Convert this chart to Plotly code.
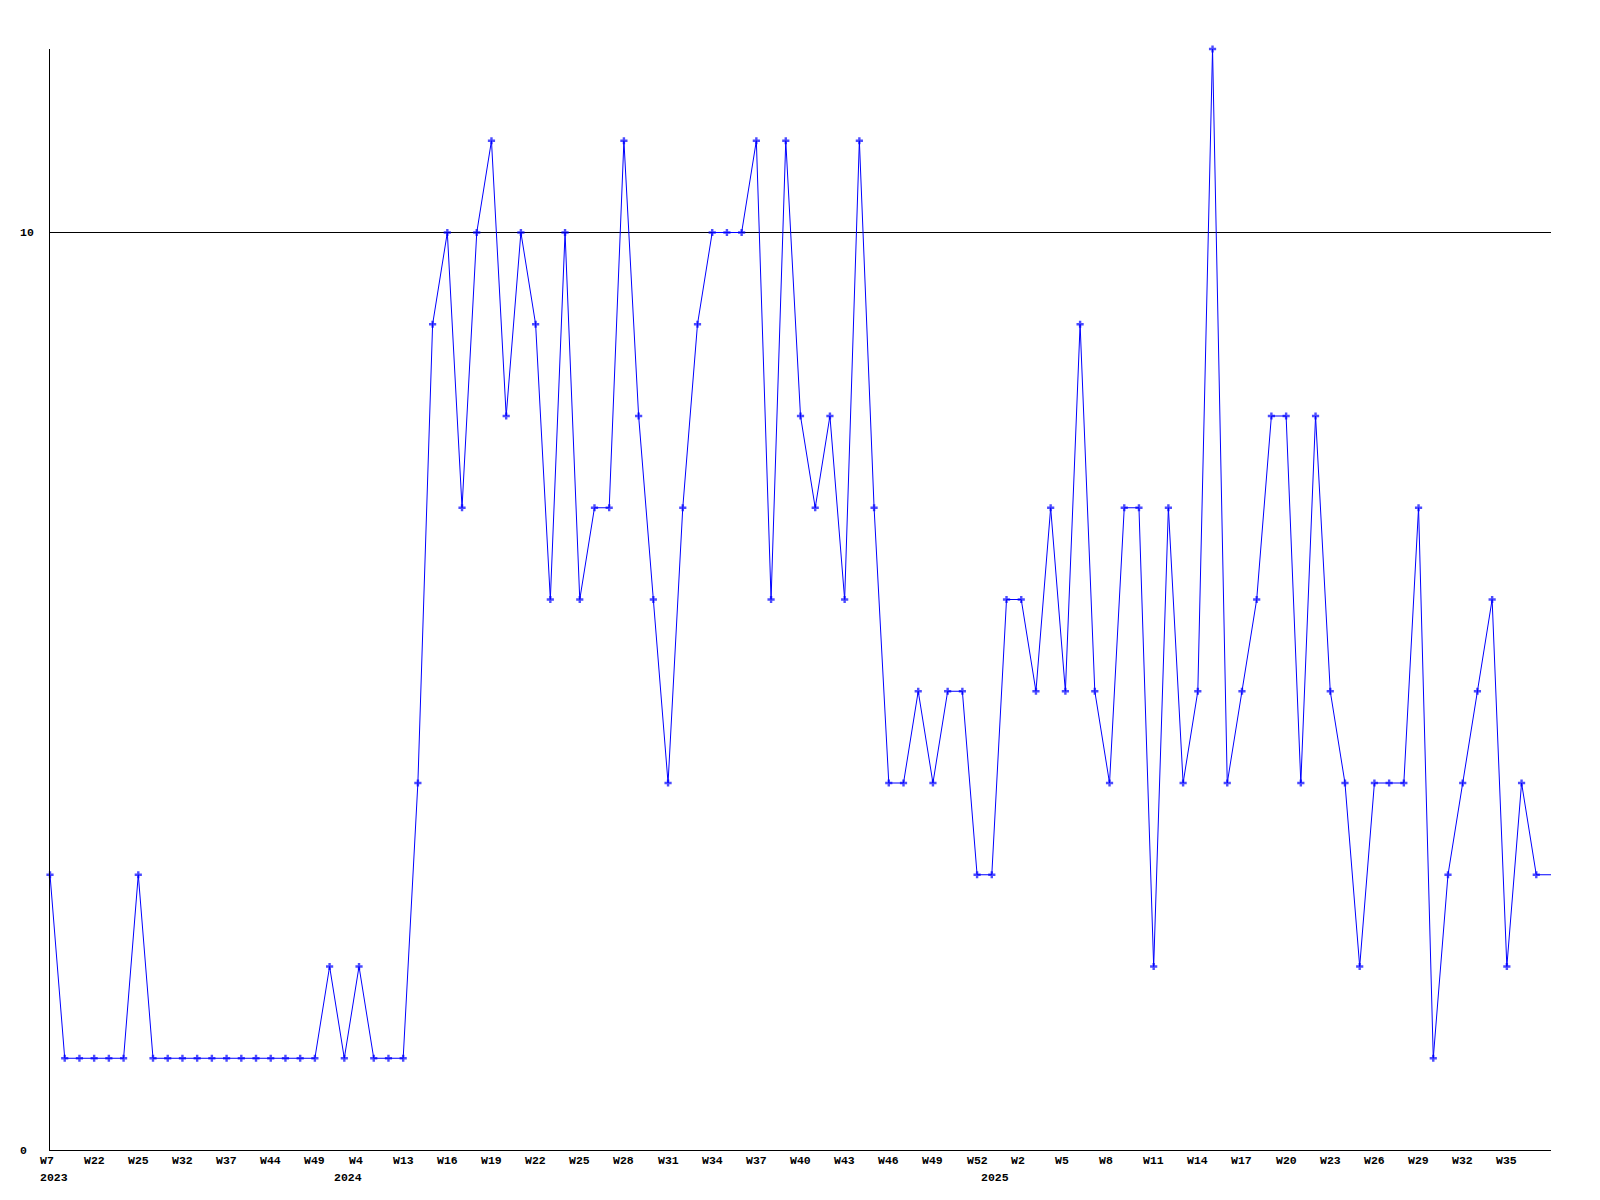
import plotly.graph_objects as go

# weekly values (one per plotted week, in order)
values = [3, 1, 1, 1, 1, 1, 3, 1, 1, 1, 1, 1, 1, 1, 1, 1, 1, 1, 1, 2,
          1, 2, 1, 1, 1, 4, 9, 10, 7, 10, 11, 8, 10, 9, 6, 10, 6, 7, 7, 11,
          8, 6, 4, 7, 9, 10, 10, 10, 11, 6, 11, 8, 7, 8, 6, 11, 7, 4, 4, 5,
          4, 5, 5, 3, 3, 6, 6, 5, 7, 5, 9, 5, 4, 7, 7, 2, 7, 4, 5, 12,
          4, 5, 6, 8, 8, 4, 8, 5, 4, 2, 4, 4, 4, 7, 1, 3, 4, 5, 6, 2,
          4, 3]
# the line is carried on to the right edge at the last value
tail_value = 3

# x tick labels and the week (point) they belong to
tick_points = [0, 3, 6, 9, 12, 15, 18, 21, 24, 27, 30, 33, 36, 39, 42, 45, 48,
               51, 54, 57, 60, 63, 66, 69, 72, 75, 78, 81, 84, 87, 90, 93, 96, 99]
tick_labels = ["W7", "W22", "W25", "W32", "W37", "W44", "W49", "W4", "W13", "W16",
               "W19", "W22", "W25", "W28", "W31", "W34", "W37", "W40", "W43", "W46",
               "W49", "W52", "W2", "W5", "W8", "W11", "W14", "W17", "W20", "W23",
               "W26", "W29", "W32", "W35"]
year_points = [0, 20, 64]
year_labels = ["2023", "2024", "2025"]

y_ticks = [0, 10]
y_tick_labels = ["0", "10"]

xs = list(range(len(values) + 1))
ys = values + [tail_value]
sizes = [6] * len(values) + [0]

FONT = dict(family="Liberation Mono, DejaVu Sans Mono, monospace", size=11.5,
            color="black", weight="bold")

fig = go.Figure()
fig.add_trace(go.Scatter(
    x=xs, y=ys, mode="lines+markers",
    line=dict(color="#0000FF", width=1),
    marker=dict(symbol="cross", size=sizes, color="#0000FF", line=dict(width=0)),
    hoverinfo="skip", cliponaxis=False,
))

annotations = []
for p, t in zip(tick_points, tick_labels):
    annotations.append(dict(x=p, y=0, xref="x", yref="paper", text=t,
                            showarrow=False, xanchor="left", yanchor="top",
                            xshift=-11.5, yshift=-3, font=FONT, borderpad=0))
for p, t in zip(year_points, year_labels):
    annotations.append(dict(x=p, y=0, xref="x", yref="paper", text=t,
                            showarrow=False, xanchor="left", yanchor="top",
                            xshift=-11.5, yshift=-20, font=FONT, borderpad=0))
for v, t in zip(y_ticks, y_tick_labels):
    annotations.append(dict(x=0, y=v, xref="paper", yref="y", text=t,
                            showarrow=False, xanchor="left", yanchor="middle",
                            xshift=-31, font=FONT, borderpad=0))

fig.update_layout(
    width=1600, height=1200,
    margin=dict(l=42, r=57, t=41, b=58, autoexpand=False),
    paper_bgcolor="white", plot_bgcolor="white",
    showlegend=False,
    annotations=annotations,
    xaxis=dict(range=[0, 102], showgrid=False, zeroline=False,
               showline=True, linecolor="black", linewidth=1,
               showticklabels=False, ticks=""),
    yaxis=dict(range=[0, 12], tickvals=y_ticks, showgrid=True,
               gridcolor="black", gridwidth=1, zeroline=False,
               showline=True, linecolor="black", linewidth=1,
               showticklabels=False, ticks=""),
)

fig.write_html("out.html")
